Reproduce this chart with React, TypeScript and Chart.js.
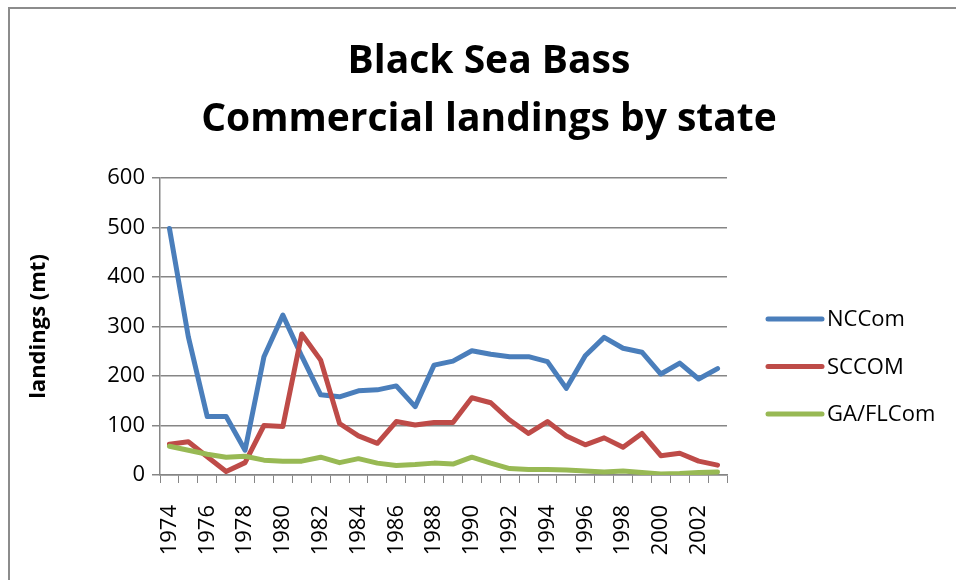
import React, { useEffect, useRef } from 'react';
import { Chart, registerables } from 'chart.js';

Chart.register(...registerables);

const years = [
  '1974', '1975', '1976', '1977', '1978', '1979', '1980', '1981', '1982', '1983',
  '1984', '1985', '1986', '1987', '1988', '1989', '1990', '1991', '1992', '1993',
  '1994', '1995', '1996', '1997', '1998', '1999', '2000', '2001', '2002', '2003',
];
const ncCom = [
  498, 279, 118, 118, 50, 239, 323, 240, 162, 158,
  170, 172, 180, 138, 222, 230, 251, 244, 239, 239,
  229, 175, 241, 278, 256, 248, 204, 226, 194, 215,
];
const scCom = [
  62, 67, 37, 7, 25, 100, 98, 285, 232, 104,
  79, 64, 108, 101, 106, 106, 156, 146, 111, 84,
  108, 79, 61, 75, 56, 84, 39, 44, 28, 20,
];
const gaFlCom = [
  58, 50, 42, 36, 38, 30, 28, 28, 36, 25,
  33, 24, 19, 21, 24, 22, 36, 24, 13, 11,
  11, 10, 8, 6, 8, 5, 2, 3, 5, 6,
];
const seriesNames = ['NCCom', 'SCCOM', 'GA/FLCom'];
const seriesColors = ['#4a7ebb', '#be4b48', '#98b954'];
const titleLines = ['Black Sea Bass', 'Commercial landings by state'];
const yAxisTitle = 'landings (mt)';
const yMin = 0;
const yMax = 600;
const yStep = 100;

const FONT = '"Open Sans", "DejaVu Sans", sans-serif';
const GRID = '#868686';

const sideLegend = {
  id: 'sideLegend',
  afterDraw(chart: any) {
    const { ctx, chartArea } = chart;
    const x0 = chartArea.right + 41;
    const midY = chartArea.top + (chartArea.bottom - chartArea.top) * 0.635;
    chart.data.datasets.forEach((ds: any, i: number) => {
      const y = midY + (i - 1) * 47.5;
      ctx.save();
      ctx.strokeStyle = ds.borderColor;
      ctx.lineWidth = 5;
      ctx.lineCap = 'round';
      ctx.beginPath();
      ctx.moveTo(x0, y);
      ctx.lineTo(x0 + 54, y);
      ctx.stroke();
      ctx.fillStyle = '#000';
      ctx.font = `22px ${FONT}`;
      ctx.textBaseline = 'middle';
      ctx.textAlign = 'left';
      ctx.fillText(ds.label, x0 + 59, y + 1);
      ctx.restore();
    });
  },
};

export default function App() {
  const ref = useRef<HTMLCanvasElement | null>(null);

  useEffect(() => {
    if (!ref.current) return;
    const values = [ncCom, scCom, gaFlCom];
    const chart = new Chart(ref.current, {
      type: 'line',
      data: {
        labels: years,
        datasets: values.map((v, i) => ({
          label: seriesNames[i],
          data: v,
          borderColor: seriesColors[i],
          backgroundColor: seriesColors[i],
          borderWidth: 5,
          pointRadius: 0,
          pointHoverRadius: 0,
          tension: 0,
          borderJoinStyle: 'round' as const,
          borderCapStyle: 'round' as const,
          fill: false,
          order: 3 - i,
        })),
      },
      options: {
        responsive: false,
        animation: false,
        devicePixelRatio: 1,
        layout: { padding: { left: 22, right: 0, top: 0, bottom: 0 } },
        plugins: {
          legend: { display: false },
          tooltip: { enabled: false },
          title: {
            display: true,
            text: titleLines,
            color: '#000',
            font: { family: FONT, size: 39, weight: 'bold', lineHeight: 1.487 },
            padding: { top: 33, bottom: 29 },
          },
        },
        scales: {
          x: {
            type: 'category',
            offset: true,
            grid: {
              offset: true,
              drawOnChartArea: false,
              drawTicks: true,
              tickLength: 8,
              color: GRID,
              lineWidth: 1,
            },
            border: { color: GRID, width: 1.5 },
            ticks: {
              autoSkip: false,
              maxRotation: 90,
              minRotation: 90,
              padding: 22,
              color: '#000',
              font: { family: FONT, size: 22 },
              callback: (_v: any, idx: number) => (idx % 2 === 0 ? years[idx] : ''),
            },
            afterFit: (s: any) => {
              s.height = 105;
            },
          },
          y: {
            min: yMin,
            max: yMax,
            grid: { color: GRID, lineWidth: 1.5, tickLength: 8 },
            border: { color: GRID, width: 1.5 },
            ticks: {
              stepSize: yStep,
              padding: 7,
              color: '#000',
              font: { family: FONT, size: 22 },
            },
            title: {
              display: true,
              text: yAxisTitle,
              color: '#000',
              font: { family: FONT, size: 22, weight: 'bold' },
              padding: { top: 4, bottom: 0 },
            },
            afterFit: (s: any) => {
              s.width = 138;
            },
          },
          spacer: {
            position: 'right',
            display: true,
            grid: { display: false, drawTicks: false },
            border: { display: false },
            ticks: { display: false },
            afterFit: (s: any) => {
              s.width = 229;
            },
          },
        },
      },
      plugins: [sideLegend],
    } as any);
    return () => chart.destroy();
  }, []);

  return (
    <div
      style={{
        position: 'fixed',
        left: 0,
        top: 0,
        width: 956,
        height: 580,
        background: '#fff',
        overflow: 'hidden',
      }}
    >
      <div
        style={{
          position: 'absolute',
          left: 8,
          top: 7,
          width: 1000,
          height: 700,
          borderLeft: '2px solid #8c8c8c',
          borderTop: '2px solid #8c8c8c',
        }}
      />
      <canvas
        ref={ref}
        width={956}
        height={580}
        style={{ position: 'absolute', left: 0, top: 0, width: 956, height: 580 }}
      />
    </div>
  );
}
